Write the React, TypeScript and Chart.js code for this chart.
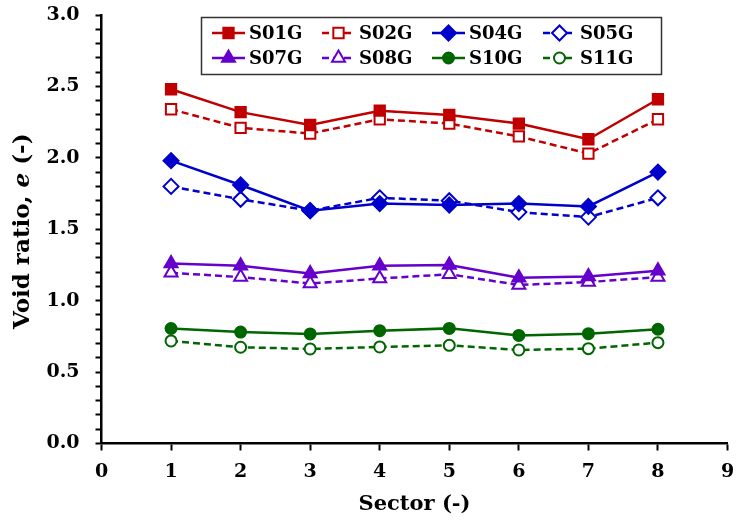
import React, { useEffect, useRef } from "react";
import { Chart, registerables } from "chart.js";

Chart.register(...registerables);

const sectors = [1, 2, 3, 4, 5, 6, 7, 8];
const s01g = [2.48, 2.32, 2.23, 2.33, 2.3, 2.24, 2.13, 2.41];
const s02g = [2.34, 2.21, 2.17, 2.27, 2.24, 2.15, 2.03, 2.27];
const s04g = [1.98, 1.81, 1.63, 1.68, 1.67, 1.68, 1.66, 1.9];
const s05g = [1.8, 1.71, 1.63, 1.72, 1.7, 1.62, 1.585, 1.72];
const s07g = [1.26, 1.245, 1.19, 1.245, 1.25, 1.16, 1.17, 1.21];
const s08g = [1.195, 1.165, 1.12, 1.155, 1.185, 1.11, 1.13, 1.165];
const s10g = [0.805, 0.78, 0.767, 0.79, 0.806, 0.757, 0.769, 0.8];
const s11g = [0.718, 0.674, 0.662, 0.676, 0.687, 0.655, 0.664, 0.706];

const seriesNames = ["S01G", "S02G", "S04G", "S05G", "S07G", "S08G", "S10G", "S11G"];
const seriesValues = [s01g, s02g, s04g, s05g, s07g, s08g, s10g, s11g];
const seriesColors = ["#C00000", "#C00000", "#0000CC", "#0000CC", "#6600CC", "#6600CC", "#006600", "#006600"];
const seriesShapes = ["rect", "rect", "rectRot", "rectRot", "triangle", "triangle", "circle", "circle"];
const seriesOpen = [false, true, false, true, false, true, false, true];

const xTitle = "Sector (-)";
const yTitleParts = [
  { text: "Void ratio, ", italic: false },
  { text: "e", italic: true },
  { text: " (-)", italic: false },
];

const FONT = "'DejaVu Serif'";

const markerRadius: Record<string, number> = { rect: 7.3, rectRot: 7.5, triangle: 7.5, circle: 5.5 };

function drawMarker(ctx: CanvasRenderingContext2D, shape: string, x: number, y: number, r: number) {
  ctx.beginPath();
  if (shape === "rect") {
    const s = Math.SQRT1_2 * r;
    ctx.rect(x - s, y - s, 2 * s, 2 * s);
  } else if (shape === "rectRot") {
    ctx.moveTo(x - r, y);
    ctx.lineTo(x, y - r);
    ctx.lineTo(x + r, y);
    ctx.lineTo(x, y + r);
    ctx.closePath();
  } else if (shape === "triangle") {
    let rad = 0;
    ctx.moveTo(x + Math.sin(rad) * r, y - Math.cos(rad) * r);
    rad += (2 * Math.PI) / 3;
    ctx.lineTo(x + Math.sin(rad) * r, y - Math.cos(rad) * r);
    rad += (2 * Math.PI) / 3;
    ctx.lineTo(x + Math.sin(rad) * r, y - Math.cos(rad) * r);
    ctx.closePath();
  } else {
    ctx.arc(x, y, r, 0, Math.PI * 2);
  }
}

const legendPlugin = {
  id: "boxLegend",
  afterDraw(chart: any) {
    const ctx: CanvasRenderingContext2D = chart.ctx;
    const bx = 201, by = 17, bw = 461, bh = 58;
    ctx.save();
    ctx.fillStyle = "#fff";
    ctx.fillRect(bx, by, bw, bh);
    ctx.strokeStyle = "#333";
    ctx.lineWidth = 1.5;
    ctx.strokeRect(bx + 0.5, by + 0.5, bw - 1, bh - 1);
    const colX = [212, 322, 432, 543];
    const rowY = [33, 58];
    seriesNames.forEach((name, i) => {
      const cx = colX[i % 4];
      const cy = rowY[Math.floor(i / 4)];
      const color = seriesColors[i];
      ctx.strokeStyle = color;
      ctx.lineWidth = 2.5;
      ctx.setLineDash(seriesOpen[i] ? [7, 4] : []);
      ctx.beginPath();
      ctx.moveTo(cx, cy);
      ctx.lineTo(cx + 33, cy);
      ctx.stroke();
      ctx.setLineDash([]);
      drawMarker(ctx, seriesShapes[i], cx + 16.5, cy, markerRadius[seriesShapes[i]]);
      ctx.fillStyle = seriesOpen[i] ? "#fff" : color;
      ctx.fill();
      ctx.lineWidth = 2;
      ctx.stroke();
      ctx.fillStyle = "#000";
      ctx.font = `bold 18px ${FONT}`;
      ctx.textAlign = "left";
      ctx.textBaseline = "middle";
      ctx.fillText(name, cx + 37, cy + 1);
    });
    ctx.restore();
  },
};

const yTitlePlugin = {
  id: "yTitleMixed",
  afterDraw(chart: any) {
    const ctx: CanvasRenderingContext2D = chart.ctx;
    const area = chart.chartArea;
    const cy = (area.top + area.bottom) / 2 + 2;
    ctx.save();
    ctx.translate(23, cy);
    ctx.rotate(-Math.PI / 2);
    ctx.fillStyle = "#000";
    ctx.textBaseline = "middle";
    ctx.textAlign = "left";
    const fonts = yTitleParts.map((p) => `${p.italic ? "italic " : ""}bold 23px ${FONT}`);
    let total = 0;
    yTitleParts.forEach((p, i) => {
      ctx.font = fonts[i];
      total += ctx.measureText(p.text).width;
    });
    let x = -total / 2;
    yTitleParts.forEach((p, i) => {
      ctx.font = fonts[i];
      ctx.fillText(p.text, x, 0);
      x += ctx.measureText(p.text).width;
    });
    ctx.restore();
  },
};

export default function App() {
  const ref = useRef<HTMLCanvasElement | null>(null);
  useEffect(() => {
    if (!ref.current) return;
    const datasets = seriesNames.map((name, i) => ({
      label: name,
      data: sectors.map((s, j) => ({ x: s, y: seriesValues[i][j] })),
      borderColor: seriesColors[i],
      backgroundColor: seriesColors[i],
      borderWidth: 2.5,
      borderDash: seriesOpen[i] ? [7, 4] : [],
      pointStyle: seriesShapes[i],
      pointRadius: markerRadius[seriesShapes[i]],
      pointBorderWidth: 2,
      pointBorderColor: seriesColors[i],
      pointBackgroundColor: seriesOpen[i] ? "#fff" : seriesColors[i],
      tension: 0,
    }));
    const chart = new Chart(ref.current, {
      type: "line",
      data: { datasets },
      plugins: [legendPlugin, yTitlePlugin],
      options: {
        responsive: false,
        animation: false,
        layout: { padding: { left: 0, top: 15, right: 6, bottom: 0 } },
        plugins: { legend: { display: false }, tooltip: { enabled: false } },
        scales: {
          x: {
            type: "linear",
            min: 0,
            max: 9,
            ticks: {
              stepSize: 1,
              color: "#000",
              font: { family: FONT, size: 19, weight: "bold" },
              padding: 10,
            },
            grid: { drawOnChartArea: false, drawTicks: true, tickLength: 7, tickWidth: 2, tickColor: "#000" },
            border: { display: true, color: "#000", width: 2.5 },
            title: {
              display: true,
              text: xTitle,
              color: "#000",
              font: { family: FONT, size: 21, weight: "bold" },
              padding: { top: 0, bottom: 4 },
            },
            afterFit: (scale: any) => {
              scale.height = 77.5;
              scale.paddingLeft = 0;
              scale.paddingRight = 0;
            },
          },
          y: {
            type: "linear",
            min: 0,
            max: 3,
            ticks: {
              stepSize: 0.1,
              autoSkip: false,
              color: "#000",
              font: { family: FONT, size: 19, weight: "bold" },
              padding: 16,
              callback: (v: any) => {
                const n = Number(v);
                return Math.abs(n * 2 - Math.round(n * 2)) < 1e-6 ? n.toFixed(1) : "";
              },
            },
            grid: { drawOnChartArea: false, drawTicks: true, tickLength: 6, tickWidth: 2, tickColor: "#000" },
            border: { display: true, color: "#000", width: 2.5 },
            afterFit: (scale: any) => {
              scale.width = 101.5;
              scale.paddingTop = 0;
              scale.paddingBottom = 0;
            },
          },
        },
      },
    } as any);
    return () => chart.destroy();
  }, []);
  return (
    <div style={{ position: "absolute", left: 0, top: 0, width: 737, height: 521, background: "#fff" }}>
      <canvas ref={ref} width={737} height={521} />
    </div>
  );
}
